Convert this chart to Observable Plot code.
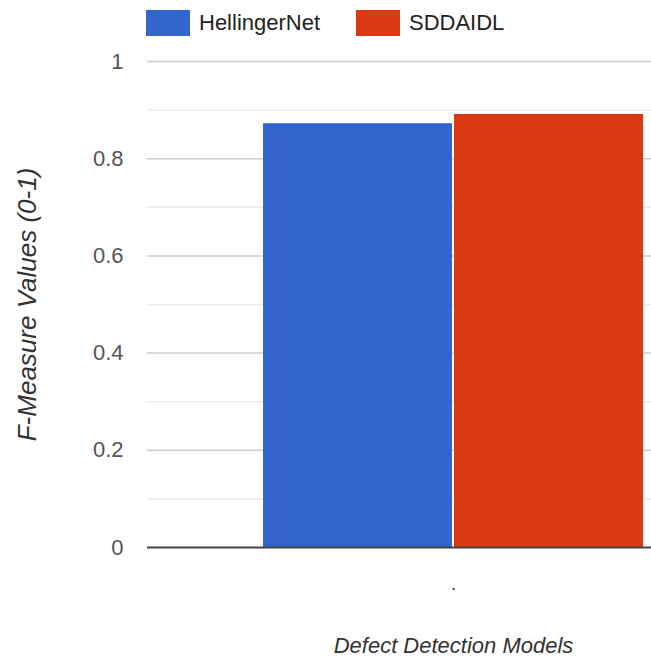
<!DOCTYPE html>
<html><head><meta charset="utf-8">
<script src="https://cdn.jsdelivr.net/npm/d3@7"></script>
<script src="https://cdn.jsdelivr.net/npm/@observablehq/plot@0.6"></script>
<style>
body{margin:0;background:#fff;font-family:"Liberation Sans",Arial,sans-serif;}
#legend{height:47px;position:relative;width:651px;}
.item{position:absolute;top:10px;height:26px;display:flex;align-items:center;font-size:22px;color:#222;white-space:nowrap;}
.sw{width:44px;height:26px;margin-right:9px;}
</style></head><body>
<div id="legend"></div>
<div id="chart"></div>
<script>
const models = ["HellingerNet", "SDDAIDL"];
const fMeasure = [0.872, 0.891];
const colors = ["#3366cc", "#dc3912"];
const yTicks = [0, 0.2, 0.4, 0.6, 0.8, 1];
const yMinor = [0.1, 0.3, 0.5, 0.7, 0.9];
const category = ".";
const xTitle = "Defect Detection Models";
const yTitle = "F-Measure Values (0-1)";

const data = models.map((m, i) => ({model: m, value: fMeasure[i], slot: i}));

// legend
const legend = d3.select("#legend");
const legendLeft = [146, 356];
models.forEach((m, i) => {
  const it = legend.append("div").attr("class", "item").style("left", legendLeft[i] + "px");
  it.append("div").attr("class", "sw").style("background", colors[i]);
  it.append("span").text(m);
});

const chart = Plot.plot({
  width: 651,
  height: 613,
  marginLeft: 147,
  marginRight: 0,
  marginTop: 14,
  marginBottom: 113,
  x: {domain: [0, models.length], range: [262, 644], axis: null},
  y: {domain: [0, 1], axis: null},
  color: {domain: models, range: colors},
  style: {fontFamily: "Liberation Sans, Arial, sans-serif", fontSize: "22px", background: "#fff"},
  marks: [
    Plot.ruleY(yMinor, {stroke: "#ebebeb", strokeWidth: 1.5}),
    Plot.ruleY(yTicks.filter(d => d > 0), {stroke: "#cccccc", strokeWidth: 1.5}),
    Plot.rectY(data, {x1: "slot", x2: d => d.slot + 1, y: "value", fill: "model", insetLeft: 1, insetRight: 1}),
    Plot.ruleY([0], {stroke: "#444", strokeWidth: 2}),
    Plot.axisY(yTicks, {tickSize: 0, tickPadding: 24, tickFormat: d => String(d), color: "#555", fontSize: 22, label: null}),
    Plot.text([category], {x: () => models.length / 2, frameAnchor: "bottom", dy: 42, lineAnchor: "bottom", fill: "#333", fontSize: 18}),
    Plot.text([xTitle], {x: () => models.length / 2, frameAnchor: "bottom", dy: 98, lineAnchor: "middle", fill: "#333", fontSize: 22, fontStyle: "italic"}),
    Plot.text([yTitle], {frameAnchor: "left", textAnchor: "middle", lineAnchor: "middle", dx: -120, rotate: -90, fill: "#333", fontSize: 26, fontStyle: "italic"})
  ]
});
document.getElementById("chart").appendChild(chart);
</script>
</body></html>
